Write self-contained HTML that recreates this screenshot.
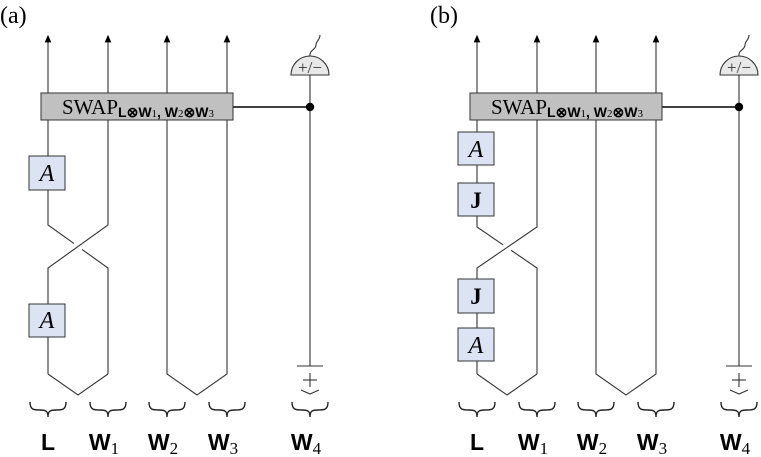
<!DOCTYPE html>
<html><head><meta charset="utf-8"><style>
html,body{margin:0;padding:0;background:#fff;}
svg{display:block;}
.w{stroke:#333;stroke-width:1.1;fill:none;}
.br{stroke:#222;stroke-width:1.4;fill:none;}
.lab{font-family:"Liberation Sans",sans-serif;font-weight:bold;font-size:23px;fill:#000;}
.sub{font-family:"Liberation Serif",serif;font-size:17px;fill:#000;}
.ser{font-family:"Liberation Serif",serif;}
</style></head><body>
<svg width="761" height="457" viewBox="0 0 761 457" xmlns="http://www.w3.org/2000/svg">
<defs>
<marker id="ar" markerWidth="8" markerHeight="8" refX="4" refY="4" orient="auto"><path d="M0,1 L7,4 L0,7 Z" fill="#000"/></marker>
<g id="common">
  <line class="w" x1="48" y1="93" x2="48" y2="38" marker-end="url(#ar)"/>
  <line class="w" x1="108" y1="93" x2="108" y2="38" marker-end="url(#ar)"/>
  <line class="w" x1="167" y1="93" x2="167" y2="38" marker-end="url(#ar)"/>
  <line class="w" x1="227" y1="93" x2="227" y2="38" marker-end="url(#ar)"/>
  <path class="w" d="M167,120 L167,374 L197,395 L227,374 L227,120"/>
  <path class="w" d="M48,374 L78,395 L108,374"/>
  <line class="w" x1="310" y1="75" x2="310" y2="366"/>
  <line class="w" x1="297" y1="366" x2="323" y2="366"/>
  <line class="w" x1="303" y1="380" x2="317" y2="380"/>
  <line class="w" x1="310" y1="373" x2="310" y2="387"/>
  <path class="w" d="M301,390 L310,394 L319,390"/>
  <path d="M291,75 A19,19 0 0 1 329,75 Z" fill="#e8e8e8" stroke="#333" stroke-width="1.1"/>
  <path class="w" d="M310,56 C309,50 316,50 316,45 C316,41 320,40 320,35"/>
  <text x="310" y="73" text-anchor="middle" class="ser" font-size="17" fill="#333">+/−</text>
  <line x1="233" y1="107" x2="310" y2="107" stroke="#000" stroke-width="1.6"/>
  <circle cx="310" cy="107" r="4.2" fill="#000"/>
  <rect x="41" y="93" width="192" height="27" fill="#c0c0c0" stroke="#333" stroke-width="1"/>
  <text x="62" y="114" class="ser" font-size="21">SWAP<tspan font-family="Liberation Sans" font-weight="bold" font-size="14" dy="3">L⊗W<tspan font-weight="normal" font-family="Liberation Serif" font-size="11">1</tspan>, W<tspan font-weight="normal" font-family="Liberation Serif" font-size="11">2</tspan>⊗W<tspan font-weight="normal" font-family="Liberation Serif" font-size="11">3</tspan></tspan></text>
  <g class="br">
    <path d="M30,402 C30,410 34,410 40,410 C46,410 48,411 48,417 C48,411 50,410 56,410 C62,410 66,410 66,402"/>
    <path d="M90,402 C90,410 94,410 100,410 C106,410 108,411 108,417 C108,411 110,410 116,410 C122,410 126,410 126,402"/>
    <path d="M149,402 C149,410 153,410 159,410 C165,410 167,411 167,417 C167,411 169,410 175,410 C181,410 185,410 185,402"/>
    <path d="M209,402 C209,410 213,410 219,410 C225,410 227,411 227,417 C227,411 229,410 235,410 C241,410 245,410 245,402"/>
    <path d="M292,402 C292,410 296,410 302,410 C308,410 310,411 310,417 C310,411 312,410 318,410 C324,410 328,410 328,402"/>
  </g>
  <text x="48" y="450" text-anchor="middle" class="lab">L</text>
  <text x="104" y="450" text-anchor="middle" class="lab">W<tspan class="sub" font-weight="normal" dy="4">1</tspan></text>
  <text x="163" y="450" text-anchor="middle" class="lab">W<tspan class="sub" font-weight="normal" dy="4">2</tspan></text>
  <text x="223" y="450" text-anchor="middle" class="lab">W<tspan class="sub" font-weight="normal" dy="4">3</tspan></text>
  <text x="306" y="450" text-anchor="middle" class="lab">W<tspan class="sub" font-weight="normal" dy="4">4</tspan></text>
</g>
</defs>

<text x="0" y="23" class="ser" font-size="24">(a)</text>
<text x="430" y="23" class="ser" font-size="24">(b)</text>

<g>
<use href="#common"/>
<path class="w" d="M48,120 L48,225 L74,243.6"/>
<path class="w" d="M82,249.4 L108,268 L108,374"/>
<path class="w" d="M108,120 L108,225 L48,268 L48,374"/>
<rect x="29" y="156" width="36" height="34" fill="#dce4f4" stroke="#333"/>
<text x="47" y="181" text-anchor="middle" class="ser" font-style="italic" font-size="24">A</text>
<rect x="29" y="304" width="36" height="33" fill="#dce4f4" stroke="#333"/>
<text x="47" y="328" text-anchor="middle" class="ser" font-style="italic" font-size="24">A</text>
</g>

<g transform="translate(429,0)">
<use href="#common"/>
<path class="w" d="M48,120 L48,227 L74,244.8"/>
<path class="w" d="M82,250.2 L108,268 L108,374"/>
<path class="w" d="M108,120 L108,227 L48,268 L48,374" stroke="#666"/>
<rect x="29" y="132" width="36" height="33" fill="#dce4f4" stroke="#333"/>
<text x="47" y="157" text-anchor="middle" class="ser" font-style="italic" font-size="24">A</text>
<rect x="29" y="183" width="36" height="33" fill="#dce4f4" stroke="#333"/>
<text x="47" y="208" text-anchor="middle" class="ser" font-weight="bold" font-size="23">J</text>
<rect x="29" y="279" width="36" height="34" fill="#dce4f4" stroke="#333"/>
<text x="47" y="304" text-anchor="middle" class="ser" font-weight="bold" font-size="23">J</text>
<rect x="29" y="328" width="36" height="33" fill="#dce4f4" stroke="#333"/>
<text x="47" y="353" text-anchor="middle" class="ser" font-style="italic" font-size="24">A</text>
</g>
</svg>
</body></html>
